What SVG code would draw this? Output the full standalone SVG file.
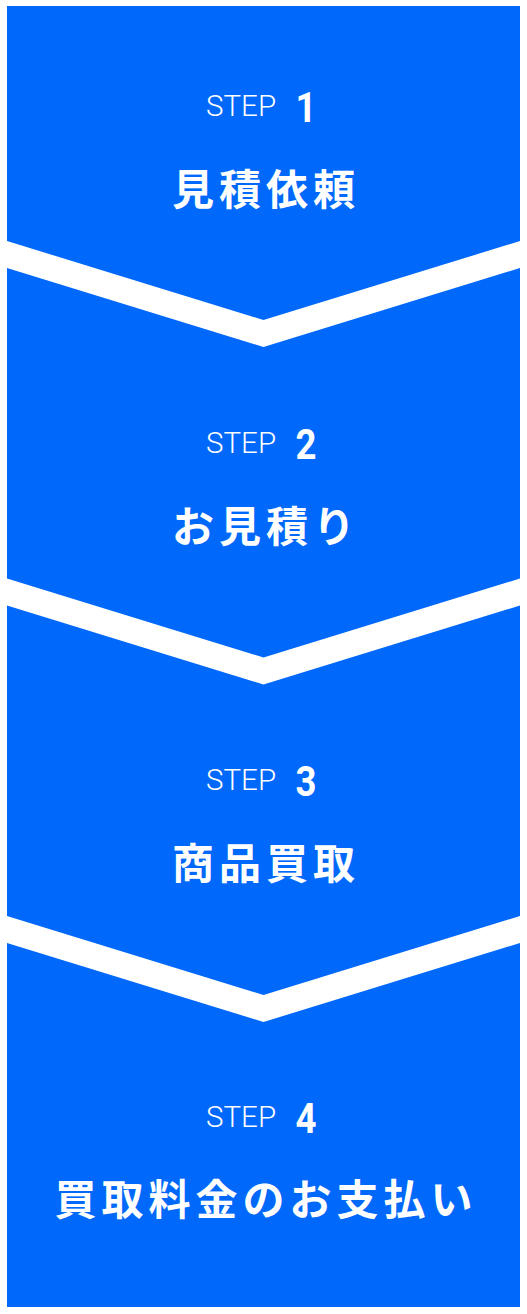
<svg xmlns="http://www.w3.org/2000/svg" width="527" height="1314" viewBox="0 0 527 1314">
  <style>
    .box { fill: #0068FA; }
    .step { font-family: Roboto, "Liberation Sans", sans-serif; font-weight: 300; font-size: 29.5px; fill: #ffffff; }
    .num { font-family: Roboto, "Liberation Sans", sans-serif; font-weight: 700; font-size: 43px; fill: #ffffff; text-anchor: middle; }
    .title { font-family: "Noto Sans CJK JP", "Noto Sans", sans-serif; font-weight: 700; font-size: 42px; letter-spacing: 5px; fill: #ffffff; text-anchor: middle; }
  </style>
  <rect width="527" height="1314" fill="#ffffff"/>
  <g id="step1">
    <path class="box" d="M7,6 H520 V241 L263.5,320 L7,241 Z"/>
    <text class="step" x="206" y="116">STEP</text>
    <text class="num" transform="translate(306,121.5) scale(0.85,1)">1</text>
    <text class="title" x="266" y="205">見積依頼</text>
  </g>
  <g id="step2">
    <path class="box" d="M7,268 L263.5,347 L520,268 V578.5 L263.5,657.5 L7,578.5 Z"/>
    <text class="step" x="206" y="453">STEP</text>
    <text class="num" transform="translate(306,458.5) scale(0.85,1)">2</text>
    <text class="title" x="266" y="542">お見積り</text>
  </g>
  <g id="step3">
    <path class="box" d="M7,605.5 L263.5,684.5 L520,605.5 V916 L263.5,995 L7,916 Z"/>
    <text class="step" x="206" y="790">STEP</text>
    <text class="num" transform="translate(306,795.5) scale(0.85,1)">3</text>
    <text class="title" x="266" y="879">商品買取</text>
  </g>
  <g id="step4">
    <path class="box" d="M7,943 L263.5,1022 L520,943 V1307 H7 Z"/>
    <text class="step" x="206" y="1127">STEP</text>
    <text class="num" transform="translate(306,1132.5) scale(0.85,1)">4</text>
    <text class="title" x="266" y="1215">買取料金のお支払い</text>
  </g>
  <g id="connectors"></g>
</svg>
